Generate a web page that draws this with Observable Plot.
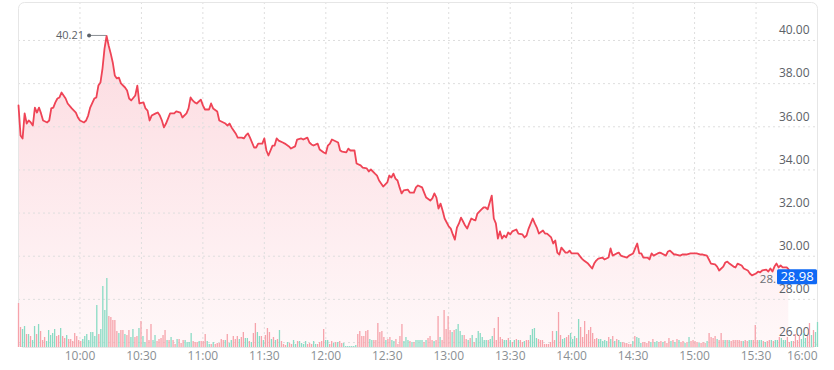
<!DOCTYPE html>
<html><head><meta charset="utf-8">
<script src="https://cdn.jsdelivr.net/npm/d3@7"></script>
<script src="https://cdn.jsdelivr.net/npm/@observablehq/plot@0.6"></script>
<style>
body{margin:0;background:#fff;font-family:"Open Sans",sans-serif}
#chart{position:relative;width:834px;height:370px}
#chart svg{position:absolute;left:0;top:0}
</style></head><body><div id="chart"></div>
<script>
// ---- data (minutes since 9:30 open) ----
const minutesSinceOpen = [0,1,2,3,4,5,6,7,8,9,10,11,12,14,15,16,17,18,19,20,21,22,23,24,26,28,29,30,32,33,34,35,37,38,39,40,41,42,43,44,45,46,47,48,49,50,52,53,54,55,57,58,59,61,62,63,64,65,67,68,69,70,71,72,74,76,77,79,80,82,83,84,85,86,87,89,90,91,93,94,95,97,98,100,101,102,103,104,106,107,109,110,111,112,113,115,116,117,119,120,121,122,124,125,126,127,129,130,132,133,135,136,138,139,141,142,143,144,146,147,149,150,151,152,153,155,156,157,158,160,161,162,164,165,167,168,170,171,172,174,175,176,177,178,180,181,182,183,184,185,186,187,188,190,191,193,194,195,197,198,199,201,202,203,204,205,206,207,208,210,211,212,213,214,215,216,217,218,219,220,221,222,223,224,226,227,228,229,231,232,233,234,235,236,237,238,239,240,241,243,244,246,247,248,249,251,252,253,254,256,257,258,260,261,262,263,264,265,267,268,269,270,272,273,275,276,278,280,281,282,283,285,286,288,289,290,292,293,294,295,297,298,300,301,302,303,304,305,307,308,309,310,312,313,314,316,317,318,320,321,323,324,326,328,329,331,333,334,336,337,338,340,341,342,344,345,346,347,349,350,351,353,354,356,357,358,360,361,362,363,365,366,367,368,369,370,371,372,373,375,376];
const price = [36.99,35.60,35.46,36.62,36.15,36.29,36.20,36.06,36.89,36.66,36.89,36.62,36.29,36.20,36.29,36.85,36.89,37.13,37.31,37.36,37.59,37.45,37.31,37.08,36.85,36.66,36.43,36.29,36.20,36.29,36.52,36.89,37.31,37.36,37.91,38.05,38.70,39.63,40.21,39.77,39.40,38.98,38.38,38.24,38.28,38.01,37.82,37.68,37.31,37.22,37.45,37.91,37.08,37.13,36.85,36.75,36.29,36.52,36.62,36.66,36.52,36.29,35.97,36.15,36.62,36.62,36.71,36.66,36.43,36.62,36.85,37.36,37.22,37.13,37.08,37.26,36.99,36.80,36.80,37.08,36.85,36.71,36.29,36.20,36.15,36.06,36.15,35.97,35.69,35.50,35.50,35.46,35.60,35.69,35.50,35.04,35.04,35.22,35.22,35.46,34.90,34.67,35.13,35.13,35.46,35.36,35.27,35.22,35.09,34.99,35.09,35.41,35.46,35.41,35.50,35.27,35.18,35.13,35.22,34.95,34.81,34.76,35.13,35.22,35.41,35.32,35.27,34.90,34.85,34.81,34.99,34.90,34.90,34.30,34.21,34.11,34.07,33.93,34.02,33.83,33.74,33.51,33.37,33.23,33.42,33.74,33.65,33.83,33.60,33.51,33.19,32.91,33.05,33.09,32.95,32.95,33.19,33.28,33.19,32.95,32.72,32.58,32.68,32.91,32.72,32.21,32.44,32.12,31.75,31.38,31.28,31.01,30.77,31.33,31.52,31.79,31.61,31.42,31.28,31.52,31.75,31.70,31.66,31.98,32.17,32.26,32.26,32.17,32.81,31.75,31.52,30.82,31.15,30.82,30.96,30.87,31.10,31.01,31.15,31.24,31.05,31.01,30.87,30.96,31.28,31.75,31.52,31.33,31.05,31.19,31.05,31.05,30.87,30.59,30.73,30.17,30.08,30.40,30.17,30.17,30.26,30.13,30.13,30.13,29.89,29.80,29.66,29.43,29.66,29.80,29.89,29.94,29.85,29.94,30.36,30.03,30.13,30.17,30.03,29.99,29.94,30.03,30.13,30.36,30.59,30.13,30.13,29.94,29.94,29.85,30.13,30.03,30.13,30.17,30.13,30.03,30.22,30.26,30.08,30.08,30.03,30.08,30.08,30.13,30.13,30.13,30.08,30.08,30.03,29.85,29.66,29.62,29.52,29.34,29.52,29.71,29.75,29.66,29.52,29.48,29.66,29.57,29.43,29.34,29.20,29.11,29.20,29.29,29.25,29.34,29.38,29.29,29.43,29.29,29.52,29.66,29.48,29.57,29.48,29.48,29.38];
// one-minute volume bars (relative units) and direction (g = up, r = down)
const volume = [44,20,18,21,13,13,11,7,21,13,23,16,7,10,6,17,12,14,18,11,12,19,11,9,12,8,8,6,14,11,7,6,8,11,13,7,15,15,11,42,13,18,61,37,69,31,30,27,27,16,14,17,17,13,12,17,10,18,10,11,19,26,11,5,18,7,23,7,12,6,8,9,12,17,7,7,10,7,3,8,8,4,7,7,5,5,14,6,5,5,6,6,6,13,6,3,3,5,3,4,4,8,7,7,13,4,7,11,8,11,8,10,15,9,9,6,5,14,24,15,11,11,7,12,19,15,8,10,7,8,17,6,3,2,5,4,3,7,3,6,6,4,3,6,3,4,3,6,3,3,5,6,18,7,7,3,6,4,5,5,6,4,4,1,1,1,1,1,2,13,16,11,11,16,17,8,7,7,7,24,15,16,10,7,8,10,7,6,8,3,11,23,6,10,7,6,5,5,7,7,7,
7,5,7,9,11,7,6,7,31,10,7,37,18,31,17,15,17,18,23,16,12,12,8,7,9,12,5,9,16,14,10,7,7,7,8,11,19,7,30,10,8,7,7,9,7,5,7,8,7,7,5,6,7,7,12,18,19,9,8,7,7,3,3,3,5,16,7,16,35,12,8,9,10,12,14,8,11,9,28,20,10,26,13,17,20,14,8,9,8,8,6,7,6,10,8,11,6,8,7,5,5,4,4,3,3,6,11,10,9,4,5,5,4,6,5,8,5,6,5,6,5,6,4,9,6,7,5,8,7,5,6,4,5,10,6,7,6,5,4,4,5,4,6,14,10,9,11,8,7,14,7,7,7,7,6,7,7,7,7,6,6,7,6,7,7,7,22,7,7,7,6,5,6,7,7,6,7,7,10,9,7,7,10,5,6,6,13,7,12,8,14,9,11,24,12,17,15,25];
const volumeDir = "rrggrgrggrgrrrgggggrrgrrgrrrrrrrggggggggrggggrrrrrgrrgrrggrrgrggrrrggrrrrrgrgrrgrrrggggrrrgrrrggrgrrrrrgrggrrrgrrggrgrrggrgrrrgrgrgrrrgrrggrggggrrrggrrrrggrrgrgrrgggggggrrrrrrggrrrrrrgrrggrrrrgggrgrggg" +
  "grgrrrgrrgrrrrrgrggggrrgrgrggggggrggrrrrrggrgrgrgrrgrrggggrrrrrrrrrgrrggrrgggrgrrrrrrrrrgggggrgrgrggrrrrrgrgggrrrrgrggrrgrrrgrgrgrrgrgrrrrgrrrgrrrrgrrrgrgrrrrrrgrrggrrrggrgrrgrggrggg" + "rrgrrrrgggrrgrggr";
const xTickLabels = ["10:00","10:30","11:00","11:30","12:00","12:30","13:00","13:30","14:00","14:30","15:00","15:30","16:00"];
const yTickValues = [26,28,30,32,34,36,38,40];
const dayHigh = {minute: 43, value: 40.21, label: "40.21"};
const lastPrice = 28.98;
const hiddenLabel = "28."; // partly hidden gray label behind the price tag

// ---- build ----
const open = new Date(2024, 0, 2, 9, 30);
const t = m => new Date(+open + m * 60000);
const close = t(390);
const priceData = minutesSinceOpen.map((m, i) => ({time: t(m), price: price[i]}));
const volData = volume.map((v, i) => ({time: t(i * 390 / (volume.length - 1)), volume: v, up: volumeDir[i] === "g"}));
const xTicks = xTickLabels.map(s => { const [h, mm] = s.split(":").map(Number); return new Date(2024, 0, 2, h, mm); });
const yDomain = [25.77, 41.76];
const common = {width: 834, height: 370, marginLeft: 18, marginRight: 17, marginTop: 2, marginBottom: 23};
const font = {fontFamily: "'Open Sans', sans-serif"};

const defs = () => {
  const d = d3.create("svg:defs");
  const g = d.append("linearGradient").attr("id", "areaGrad").attr("x1", 0).attr("y1", 0).attr("x2", 0).attr("y2", 1);
  g.append("stop").attr("offset", "0%").attr("stop-color", "#fcdbe0");
  g.append("stop").attr("offset", "100%").attr("stop-color", "#fff8f9");
  return d.node();
};

const highMark = (index, scales) => {
  const x = scales.x(t(dayHigh.minute)), y = scales.y(dayHigh.value);
  const g = d3.create("svg:g");
  g.append("line").attr("x1", x - 17).attr("x2", x).attr("y1", y).attr("y2", y).attr("stroke", "#8a8f94").attr("stroke-width", 1);
  g.append("circle").attr("cx", x - 17).attr("cy", y).attr("r", 2).attr("fill", "#5b6167");
  g.append("text").attr("x", x - 22).attr("y", y).attr("dy", "0.35em").attr("text-anchor", "end")
    .attr("font-size", 11).attr("fill", "#5b6167").attr("font-family", font.fontFamily).text(dayHigh.label);
  return g.node();
};

const lastMark = (index, scales) => {
  const x = scales.x(close), y = scales.y(lastPrice);
  const g = d3.create("svg:g").attr("font-family", font.fontFamily);
  g.append("text").attr("x", x - 41).attr("y", y + 1).attr("dy", "0.35em").attr("text-anchor", "end").attr("font-size", 11.5)
    .attr("fill", "#6b7075").text(hiddenLabel);
  g.append("rect").attr("x", x - 40).attr("y", y - 8.5).attr("width", 40).attr("height", 15).attr("rx", 1.5).attr("fill", "#0f69f5");
  g.append("text").attr("x", x - 20).attr("y", y - 1).attr("dy", "0.35em").attr("text-anchor", "middle")
    .attr("font-size", 13).attr("fill", "#fff").text(lastPrice.toFixed(2));
  return g.node();
};

const main = Plot.plot({
  ...common,
  style: {background: "transparent", ...font},
  x: {type: "time", domain: [open, close], axis: null},
  y: {domain: yDomain, axis: null},
  marks: [
    defs,
    Plot.areaY(priceData, {x: "time", y1: yDomain[0], y2: "price", fill: "url(#areaGrad)", curve: "linear"}),
    Plot.ruleY(yTickValues, {stroke: "#dedede", strokeDasharray: "2,3"}),
    Plot.ruleX(xTicks.slice(0, -1), {stroke: "#dedede", strokeDasharray: "2,3"}),
    Plot.frame({stroke: "#e6e6e6", rx: 6}),
    Plot.lineY(priceData, {x: "time", y: "price", stroke: "#ef4456", strokeWidth: 1.8, curve: "linear"}),
    Plot.text(yTickValues, {y: d => d, frameAnchor: "right", dx: -8, dy: -10, textAnchor: "end",
      text: d => d.toFixed(2), fontSize: 12, fill: "#5b6167"}),
    Plot.text(xTicks.slice(0, -1), {x: d => d, frameAnchor: "bottom", dy: 12, textAnchor: "middle",
      text: (d, i) => xTickLabels[i], fontSize: 12, fill: "#8a8f94"}),
    Plot.text(xTicks.slice(-1), {x: d => d, frameAnchor: "bottom", dy: 12, textAnchor: "end",
      text: () => xTickLabels[xTickLabels.length - 1], fontSize: 12, fill: "#8a8f94"}),
    highMark,
    lastMark
  ]
});

const vol = Plot.plot({
  ...common,
  style: {background: "transparent"},
  x: {type: "time", domain: [open, close], axis: null},
  y: {domain: [0, 345], axis: null},
  color: {type: "identity"},
  marks: [
    Plot.ruleX(volData, {x: "time", y1: 0, y2: "volume", stroke: d => d.up ? "#8adbc4" : "#f6a3ab", strokeWidth: 1.3})
  ]
});
vol.style.pointerEvents = "none";

const chart = document.getElementById("chart");
chart.append(main, vol);
</script></body></html>
